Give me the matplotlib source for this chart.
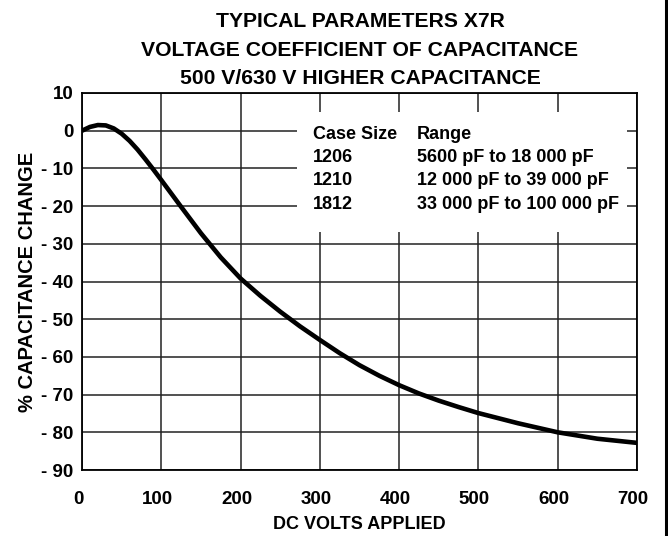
import numpy as np
import matplotlib
matplotlib.use("Agg")
from matplotlib import pyplot as plt
from matplotlib.patches import Rectangle
from matplotlib.lines import Line2D
from matplotlib.transforms import ScaledTranslation

plt.rcParams['font.family'] = ['Liberation Sans', 'DejaVu Sans']
plt.rcParams['font.weight'] = 'bold'
plt.rcParams['axes.labelweight'] = 'bold'

# curve (DC volts vs % capacitance change)
volts = [0, 10, 20, 30, 40, 50, 60, 70, 80, 90, 100, 125, 150, 175, 200,
         225, 250, 275, 300, 325, 350, 375, 400, 425, 450, 475, 500, 550,
         600, 650, 700]
change = [0, 1.0, 1.5, 1.4, 0.6, -0.8, -2.7, -5.0, -7.6, -10.3, -13.1,
          -20.2, -27.2, -33.6, -39.2, -43.8, -48.0, -51.9, -55.5, -59.0,
          -62.2, -65.0, -67.5, -69.7, -71.6, -73.3, -74.9, -77.6, -80.0,
          -81.7, -82.8]

x_ticks = [0, 100, 200, 300, 400, 500, 600, 700]
y_ticks = [10, 0, -10, -20, -30, -40, -50, -60, -70, -80, -90]
y_labels = ['10', '0', '- 10', '- 20', '- 30', '- 40', '- 50', '- 60',
            '- 70', '- 80', '- 90']

title_lines = ["TYPICAL PARAMETERS X7R",
               "VOLTAGE COEFFICIENT OF CAPACITANCE",
               "500 V/630 V HIGHER CAPACITANCE"]

case_sizes = ["Case Size", "1206", "1210", "1812"]
ranges = ["Range", "5600 pF to 18 000 pF", "12 000 pF to 39 000 pF",
          "33 000 pF to 100 000 pF"]

fig = plt.figure(figsize=(6.68, 5.36), dpi=100)
ax = fig.add_axes([0.1228, 0.1231, 0.9536 - 0.1228, 0.8265 - 0.1231])

ax.set_xlim(0, 700)
ax.set_ylim(-90, 10)
ax.set_xticks(x_ticks)
ax.set_yticks(y_ticks)
ax.set_yticklabels(y_labels)
ax.tick_params(length=0, labelsize=13.5)
ax.tick_params(axis='x', pad=15)
ax.tick_params(axis='y', pad=6)
ax.grid(True, color='#222222', linewidth=1.1, zorder=1)
ax.set_axisbelow(True)
for s in ax.spines.values():
    s.set_linewidth(1.3)

# x tick labels sit a little left of their gridlines in the original
shift = ScaledTranslation(-4 / 100, 0, fig.dpi_scale_trans)
for lab in ax.get_xticklabels():
    lab.set_transform(lab.get_transform() + shift)

# white block behind the size table
ax.add_patch(Rectangle((271, -27), 416, 32, facecolor='white',
                       edgecolor='none', zorder=2))

ax.plot(volts, change, color='black', linewidth=3.3, zorder=3,
        solid_capstyle='butt', solid_joinstyle='round')

row_y = [-0.9, -7.2, -13.3, -19.6]
for i in range(len(case_sizes)):
    ax.text(291, row_y[i], case_sizes[i], fontsize=13, va='center',
            ha='left', zorder=4)
    ax.text(422, row_y[i], ranges[i], fontsize=13, va='center',
            ha='left', zorder=4)

ax.set_xlabel("DC VOLTS APPLIED", fontsize=13, labelpad=6)
ax.set_ylabel("% CAPACITANCE CHANGE", fontsize=14.5, labelpad=3)

for i, line in enumerate(title_lines):
    fig.text(0.539, 1 - (21.5 + 28.5 * i) / 536, line, fontsize=15.2,
             ha='center', va='center')

fig.add_artist(Line2D([0.9965, 0.9965], [0, 1], color='black',
                      linewidth=2.2, transform=fig.transFigure))

fig.savefig("out.png", dpi=100)
